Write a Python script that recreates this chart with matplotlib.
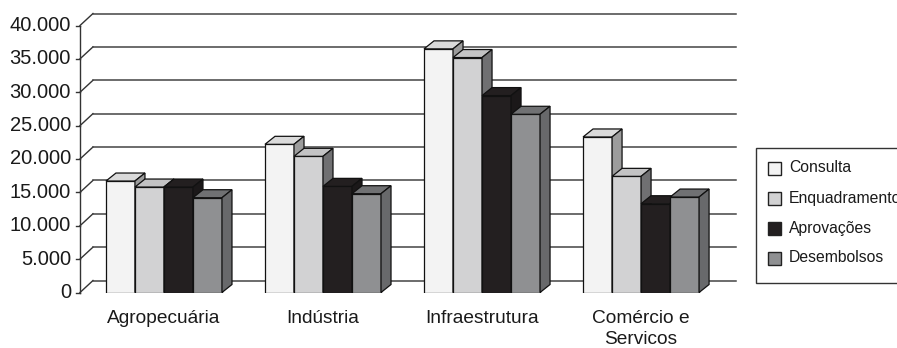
import matplotlib
matplotlib.use('Agg')
import matplotlib.pyplot as plt
from matplotlib.patches import Polygon, Rectangle

plt.rcParams['font.family'] = ['Liberation Sans', 'DejaVu Sans']

# Values
categories = ['Agropecuária', 'Indústria', 'Infraestrutura', 'Comércio e\nServicos']
series = ['Consulta', 'Enquadramento', 'Aprovações', 'Desembolsos']
consulta = [16700, 22200, 36500, 23300]
enquadramento = [15800, 20400, 35200, 17400]
aprovacoes = [15800, 15900, 29500, 13300]
desembolsos = [14200, 14800, 26700, 14300]
yticks = [0, 5000, 10000, 15000, 20000, 25000, 30000, 35000, 40000]
ytick_labels = ['0', '5.000', '10.000', '15.000', '20.000', '25.000', '30.000', '35.000', '40.000']

values = [consulta, enquadramento, aprovacoes, desembolsos]
# front, top, side colours for each series
face_colors = [
    ('#f3f3f3', '#dadada', '#9c9c9c'),
    ('#d2d2d3', '#c3c3c4', '#707072'),
    ('#231f20', '#231f20', '#1b1819'),
    ('#8f9092', '#707173', '#68696b'),
]

W, H = 897, 348
fig = plt.figure(figsize=(W / 100, H / 100), dpi=100)
ax = fig.add_axes([80 / W, (H - 292.5) / H, (736 - 80) / W, (292.5 - 25.5) / H])
xmin, xmax = -0.528, 3.597
ax.set_xlim(xmin, xmax)
ax.set_ylim(0, 40000)
ax.axis('off')

px_x = 1 / 159.0          # data units per pixel in x
px_y = 40000 / 267.0      # data units per pixel in y
wall_dx, wall_dy = 13 * px_x, 12 * px_y
bar_dx, bar_dy = 10 * px_x, 8 * px_y
bar_w = 29 * px_x

# back wall gridlines and diagonal ticks
for v, lab in zip(yticks, ytick_labels):
    ax.plot([xmin, xmin + wall_dx], [v, v + wall_dy], color='#333333', lw=1, clip_on=False)
    ax.plot([xmin + wall_dx, xmax], [v + wall_dy, v + wall_dy], color='#444444', lw=1.1, clip_on=False)
    ax.plot([xmin - 4 * px_x, xmin], [v, v], color='#333333', lw=1, clip_on=False)
    ax.text(xmin - 9 * px_x, v, lab, ha='right', va='center', fontsize=14.5, color='#1a1a1a')
ax.plot([xmin, xmin], [0, 40000], color='#333333', lw=1, clip_on=False)

# pseudo 3D bars
for ci in range(len(categories)):
    left0 = ci - 2 * bar_w
    for si in range(len(series)):
        v = values[si][ci]
        front, top, side = face_colors[si]
        x0 = left0 + si * bar_w
        x1 = x0 + bar_w
        ax.bar(x0, v, width=bar_w, align='edge', color=front, edgecolor='#111111', lw=0.9, zorder=3)
        ax.add_patch(Polygon([(x0, v), (x1, v), (x1 + bar_dx, v + bar_dy), (x0 + bar_dx, v + bar_dy)],
                             closed=True, facecolor=top, edgecolor='#111111', lw=0.9, zorder=3, clip_on=False))
        ax.add_patch(Polygon([(x1, 0), (x1 + bar_dx, bar_dy), (x1 + bar_dx, v + bar_dy), (x1, v)],
                             closed=True, facecolor=side, edgecolor='#111111', lw=0.9, zorder=3, clip_on=False))
    ax.text(ci, -2600, categories[ci], ha='center', va='top', fontsize=13.8, color='#1a1a1a',
            linespacing=1.3)

# legend box (runs off the right edge like the original)
fig.patches.append(Rectangle((756 / W, (H - 283) / H), 200 / W, 135 / H, transform=fig.transFigure,
                             facecolor='white', edgecolor='#333333', lw=1))
legend_y = [168, 198, 228, 258]
for si, name in enumerate(series):
    yc = legend_y[si]
    fig.patches.append(Rectangle((768 / W, (H - yc - 6.5) / H), 13 / W, 13 / H, transform=fig.transFigure,
                                 facecolor=face_colors[si][0], edgecolor='#222222', lw=1))
    fig.text(789 / W, (H - yc) / H, name, ha='left', va='center', fontsize=11.3, color='#1a1a1a')

fig.savefig('out.png', dpi=100)
